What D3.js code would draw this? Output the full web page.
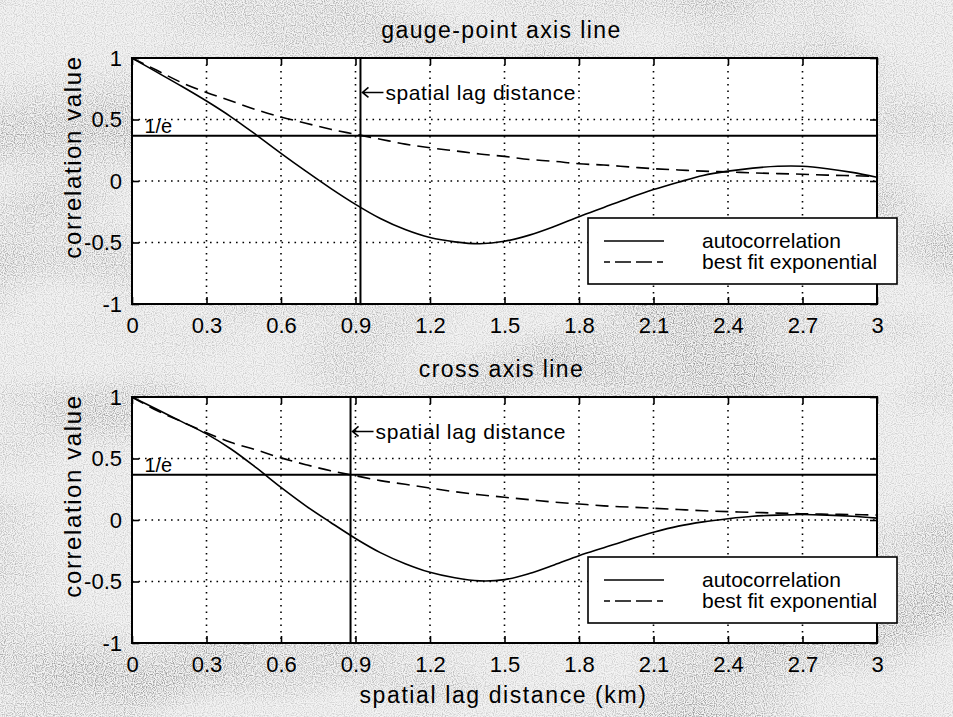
<!DOCTYPE html>
<html>
<head>
<meta charset="utf-8">
<script src="https://cdn.jsdelivr.net/npm/d3@7/dist/d3.min.js"></script>
<style>
  body { margin: 0; background: #fff; }
  text { font-family: "Liberation Sans", Arial, sans-serif; fill: #000; }
</style>
</head>
<body>
<div id="chart"></div>
<script>
// data
const lags = [0, 0.1, 0.2, 0.3, 0.4, 0.5, 0.6, 0.7, 0.8, 0.9, 1.0,
              1.1, 1.2, 1.3, 1.4, 1.5, 1.6, 1.7, 1.8, 1.9, 2.0,
              2.1, 2.2, 2.3, 2.4, 2.5, 2.6, 2.7, 2.8, 2.9, 3.0]

// gauge-point axis line
const acGauge  = [1.00, 0.885, 0.77, 0.65, 0.52, 0.375, 0.225, 0.08, -0.06, -0.19, -0.305,
                  -0.395, -0.46, -0.495, -0.51, -0.49, -0.44, -0.37, -0.29, -0.215, -0.14,
                  -0.07, -0.01, 0.045, 0.08, 0.105, 0.12, 0.12, 0.10, 0.07, 0.03]
const fitGauge = [1.00, 0.90, 0.80, 0.72, 0.65, 0.58, 0.52, 0.47, 0.42, 0.38, 0.34,
                  0.30, 0.27, 0.245, 0.22, 0.20, 0.175, 0.16, 0.14, 0.13, 0.115,
                  0.10, 0.09, 0.08, 0.074, 0.066, 0.06, 0.055, 0.048, 0.043, 0.038]
const lagGauge = 0.92

// cross axis line
const acCross  = [1.00, 0.90, 0.80, 0.70, 0.575, 0.425, 0.265, 0.115, -0.02, -0.15, -0.265,
                  -0.355, -0.425, -0.47, -0.495, -0.485, -0.435, -0.365, -0.29, -0.225, -0.16,
                  -0.10, -0.05, -0.015, 0.01, 0.03, 0.04, 0.045, 0.04, 0.03, 0.015]
const fitCross = [1.00, 0.89, 0.80, 0.71, 0.63, 0.57, 0.505, 0.45, 0.40, 0.36, 0.32,
                  0.29, 0.26, 0.23, 0.205, 0.185, 0.165, 0.145, 0.13, 0.115, 0.105,
                  0.095, 0.085, 0.075, 0.068, 0.062, 0.056, 0.051, 0.047, 0.044, 0.04]
const lagCross = 0.88

const oneOverE = 0.368
const xTicks = [0, 0.3, 0.6, 0.9, 1.2, 1.5, 1.8, 2.1, 2.4, 2.7, 3]
const yTicks = [-1, -0.5, 0, 0.5, 1]
const titles = ["gauge-point axis line", "cross axis line"]
const legendLabels = ["autocorrelation", "best fit exponential"]
const yLabel = "correlation value"
const xLabel = "spatial lag distance (km)"
const lagLabel = "spatial lag distance"

// layout
const width = 953
const height = 717
const plotLeft = 132
const plotRight = 877
const panels = [
    {top: 58, bottom: 304, title: titles[0], ac: acGauge, fit: fitGauge, lag: lagGauge},
    {top: 397, bottom: 643, title: titles[1], ac: acCross, fit: fitCross, lag: lagCross}
]

const svg = d3.select("#chart")
    .append("svg")
        .attr("width", width)
        .attr("height", height)

// mottled grey paper behind the axes
const defs = svg.append("defs")
const grain = defs.append("filter")
    .attr("id", "grain")
    .attr("filterUnits", "userSpaceOnUse")
    .attr("x", 0).attr("y", 0)
    .attr("width", width).attr("height", height)
grain.append("feFlood").attr("flood-color", "#f4f4f4").attr("result", "paper")
grain.append("feTurbulence")
    .attr("type", "fractalNoise").attr("baseFrequency", 0.9)
    .attr("numOctaves", 1).attr("seed", 4).attr("result", "fine")
grain.append("feColorMatrix")
    .attr("in", "fine").attr("type", "matrix")
    .attr("values", "0 0 0 0 0  0 0 0 0 0  0 0 0 0 0  -3 0 0 0 1.8")
    .attr("result", "dots")
grain.append("feTurbulence")
    .attr("type", "fractalNoise").attr("baseFrequency", "0.005 0.01")
    .attr("numOctaves", 2).attr("seed", 9).attr("result", "coarse")
grain.append("feColorMatrix")
    .attr("in", "coarse").attr("type", "matrix")
    .attr("values", "0 0 0 0 0  0 0 0 0 0  0 0 0 0 0  3 0 0 0 -1.2")
    .attr("result", "patches")
grain.append("feComposite")
    .attr("in", "dots").attr("in2", "patches")
    .attr("operator", "in").attr("result", "patchDots")
grain.append("feComponentTransfer")
    .attr("in", "patchDots").attr("result", "darkDots")
    .append("feFuncA").attr("type", "linear").attr("slope", 0.5)
grain.append("feComponentTransfer")
    .attr("in", "dots").attr("result", "lightDots")
    .append("feFuncA").attr("type", "linear").attr("slope", 0.3)
const merge = grain.append("feMerge")
merge.append("feMergeNode").attr("in", "paper")
merge.append("feMergeNode").attr("in", "lightDots")
merge.append("feMergeNode").attr("in", "darkDots")

svg.append("rect")
    .attr("width", width)
    .attr("height", height)
    .attr("fill", "#fff")
    .attr("filter", "url(#grain)")

panels.forEach((p, i) => {
    const x = d3.scaleLinear().domain([0, 3]).range([plotLeft, plotRight])
    const y = d3.scaleLinear().domain([-1, 1]).range([p.bottom, p.top])
    const g = svg.append("g").attr("id", "panel" + i)

    defs.append("clipPath").attr("id", "clip" + i)
        .append("rect")
            .attr("x", plotLeft).attr("y", p.top)
            .attr("width", plotRight - plotLeft).attr("height", p.bottom - p.top)

    g.append("rect")
        .attr("x", plotLeft).attr("y", p.top)
        .attr("width", plotRight - plotLeft).attr("height", p.bottom - p.top)
        .attr("fill", "#fff")

    // dotted grid
    const grid = g.append("g")
        .attr("stroke", "#000")
        .attr("stroke-width", 1.6)
        .attr("stroke-dasharray", "1.6 4.9")
    grid.selectAll("line.v").data(xTicks.slice(1, -1)).enter().append("line")
        .attr("class", "v")
        .attr("x1", d => x(d)).attr("x2", d => x(d))
        .attr("y1", p.top).attr("y2", p.bottom)
    grid.selectAll("line.h").data(yTicks.slice(1, -1)).enter().append("line")
        .attr("class", "h")
        .attr("x1", plotLeft).attr("x2", plotRight)
        .attr("y1", d => y(d)).attr("y2", d => y(d))

    const marks = g.append("g").attr("clip-path", `url(#clip${i})`)

    // 1/e level and spatial lag marker
    marks.append("line")
        .attr("x1", plotLeft).attr("x2", plotRight)
        .attr("y1", y(oneOverE)).attr("y2", y(oneOverE))
        .attr("stroke", "#000").attr("stroke-width", 2)
    marks.append("line")
        .attr("x1", x(p.lag)).attr("x2", x(p.lag))
        .attr("y1", p.top).attr("y2", p.bottom)
        .attr("stroke", "#000").attr("stroke-width", 2)

    const line = d3.line()
        .x((d, j) => x(lags[j]))
        .y(d => y(d))
        .curve(d3.curveCatmullRom.alpha(0.5))

    marks.append("path")
        .datum(p.fit)
        .attr("fill", "none")
        .attr("stroke", "#000")
        .attr("stroke-width", 1.6)
        .attr("stroke-dasharray", "13 7")
        .attr("d", line)
    marks.append("path")
        .datum(p.ac)
        .attr("fill", "none")
        .attr("stroke", "#000")
        .attr("stroke-width", 1.6)
        .attr("d", line)

    // axes, ticks pointing inward
    const fmt = d => String(d)
    const xAxis = g.append("g")
        .attr("transform", `translate(0, ${p.bottom})`)
        .call(d3.axisBottom(x).tickValues(xTicks).tickSize(-7).tickPadding(13).tickFormat(fmt))
    const xAxisTop = g.append("g")
        .attr("transform", `translate(0, ${p.top})`)
        .call(d3.axisTop(x).tickValues(xTicks).tickSize(-7).tickFormat(""))
    const yAxis = g.append("g")
        .attr("transform", `translate(${plotLeft}, 0)`)
        .call(d3.axisLeft(y).tickValues(yTicks).tickSize(-7).tickPadding(10).tickFormat(fmt))
    const yAxisRight = g.append("g")
        .attr("transform", `translate(${plotRight}, 0)`)
        .call(d3.axisRight(y).tickValues(yTicks).tickSize(-7).tickFormat(""))
    ;[xAxis, xAxisTop, yAxis, yAxisRight].forEach(a => {
        a.select(".domain").remove()
        a.selectAll(".tick line").attr("stroke", "#000").attr("stroke-width", 1.6)
        a.selectAll("text")
            .style("font-family", '"Liberation Sans", Arial, sans-serif')
            .style("font-size", "22px")
            .attr("fill", "#000")
    })

    g.append("rect")
        .attr("x", plotLeft).attr("y", p.top)
        .attr("width", plotRight - plotLeft).attr("height", p.bottom - p.top)
        .attr("fill", "none")
        .attr("stroke", "#000")
        .attr("stroke-width", 2)

    // texts
    g.append("text")
        .attr("x", (plotLeft + plotRight) / 2 - 3)
        .attr("y", p.top - 20)
        .attr("text-anchor", "middle")
        .style("font-size", "23px")
        .style("letter-spacing", "1.4px")
        .text(p.title)

    g.append("text")
        .attr("transform", `translate(81, ${(p.top + p.bottom) / 2 - 24}) rotate(-90)`)
        .attr("text-anchor", "middle")
        .style("font-size", "24px")
        .style("letter-spacing", "1.6px")
        .text(yLabel)

    g.append("text")
        .attr("x", x(0.05))
        .attr("y", y(0.45))
        .attr("dy", "0.35em")
        .style("font-size", "20px")
        .text("1/e")

    // arrow pointing at the lag marker, then its label
    const ax = x(p.lag)
    const ay = y(0.72)
    g.append("path")
        .attr("d", `M${ax + 23},${ay} L${ax + 2},${ay} M${ax + 8},${ay - 5} L${ax + 2},${ay} L${ax + 8},${ay + 5}`)
        .attr("fill", "none")
        .attr("stroke", "#000")
        .attr("stroke-width", 1.6)
    g.append("text")
        .attr("x", ax + 25)
        .attr("y", ay)
        .attr("dy", "0.35em")
        .style("font-size", "21px")
        .style("letter-spacing", "0.6px")
        .text(lagLabel)

    // legend
    const lx = plotRight - 289
    const ly = p.top + 160
    const legend = g.append("g").attr("transform", `translate(${lx}, ${ly})`)
    legend.append("rect")
        .attr("width", 309).attr("height", 66)
        .attr("fill", "#fff")
        .attr("stroke", "#000")
        .attr("stroke-width", 1.6)
    legend.selectAll("line").data(legendLabels).enter().append("line")
        .attr("x1", 16).attr("x2", 76)
        .attr("y1", (d, j) => 23 + j * 21).attr("y2", (d, j) => 23 + j * 21)
        .attr("stroke", "#000")
        .attr("stroke-width", 1.6)
        .attr("stroke-dasharray", (d, j) => j ? "6 5 16 5 16 5" : null)
    legend.selectAll("text").data(legendLabels).enter().append("text")
        .attr("x", 114)
        .attr("y", (d, j) => 30 + j * 21)
        .style("font-size", "21px")
        .text(d => d)

    if (i === 1) {
        g.append("text")
            .attr("x", (plotLeft + plotRight) / 2 - 1)
            .attr("y", 703)
            .attr("text-anchor", "middle")
            .style("font-size", "23px")
            .style("letter-spacing", "1.6px")
            .text(xLabel)
    }
})
</script>
</body>
</html>
